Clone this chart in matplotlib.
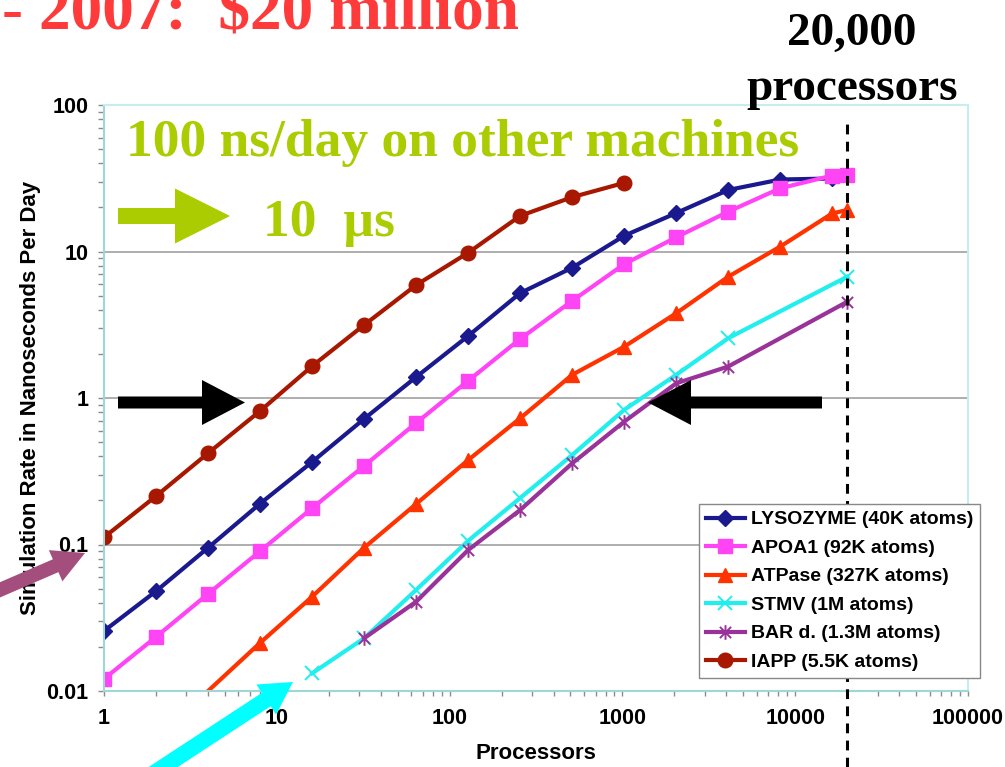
import numpy as np
import matplotlib
matplotlib.use('Agg')
import matplotlib.pyplot as plt
from matplotlib.path import Path
from matplotlib.patches import FancyArrow
from matplotlib.ticker import LogLocator, NullFormatter

# ---------------- data ----------------
procs_lys = [1, 2, 4, 8, 16, 32, 64, 128, 256, 512, 1024, 2048, 4096, 8192, 16384]
rate_lys = [0.0257, 0.048, 0.095, 0.19, 0.366, 0.72, 1.39, 2.65, 5.2, 7.75, 12.8, 18.3, 26.3, 31.0, 31.5]

procs_apoa1 = [1, 2, 4, 8, 16, 32, 64, 128, 256, 512, 1024, 2048, 4096, 8192, 16384, 20000]
rate_apoa1 = [0.0121, 0.0234, 0.046, 0.09, 0.177, 0.344, 0.675, 1.31, 2.53, 4.6, 8.2, 12.5, 18.7, 27.0, 33.0, 33.4]

procs_atpase = [4, 8, 16, 32, 64, 128, 256, 512, 1024, 2048, 4096, 8192, 16384, 20000]
rate_atpase = [0.0100, 0.0213, 0.044, 0.095, 0.189, 0.377, 0.727, 1.44, 2.24, 3.79, 6.73, 10.8, 18.2, 19.2]

procs_stmv = [16, 32, 64, 128, 256, 512, 1024, 2048, 4096, 20000]
rate_stmv = [0.0132, 0.0229, 0.049, 0.106, 0.2076, 0.408, 0.83, 1.44, 2.56, 6.73]

procs_bar = [32, 64, 128, 256, 512, 1024, 2048, 4096, 20000]
rate_bar = [0.0229, 0.0407, 0.0917, 0.172, 0.358, 0.689, 1.26, 1.64, 4.54]

procs_iapp = [1, 2, 4, 8, 16, 32, 64, 128, 256, 512, 1024]
rate_iapp = [0.112, 0.214, 0.42, 0.815, 1.65, 3.15, 5.9, 9.8, 17.5, 23.5, 29.4]

series_labels = ['LYSOZYME (40K atoms)', 'APOA1 (92K atoms)', 'ATPase (327K atoms)',
                 'STMV (1M atoms)', 'BAR d. (1.3M atoms)', 'IAPP (5.5K atoms)']

x_ticks = [1, 10, 100, 1000, 10000, 100000]
x_tick_labels = ['1', '10', '100', '1000', '10000', '100000']
y_ticks = [0.01, 0.1, 1, 10, 100]
y_tick_labels = ['0.01', '0.1', '1', '10', '100']
machine_procs = 20000

# ---------------- style ----------------
SANS = 'Liberation Sans'
SERIF = 'Liberation Serif'
plt.rcParams['font.family'] = [SANS, 'DejaVu Sans']

W, H = 1005, 767
fig = plt.figure(figsize=(W / 100, H / 100), dpi=100)
fig.patch.set_facecolor('white')

ax = fig.add_axes([104 / W, 76 / H, 864 / W, 586 / H])
ax.set_xscale('log')
ax.set_yscale('log')
ax.set_xlim(1, 100000)
ax.set_ylim(0.01, 100)

asterisk = Path([(-1, -1), (1, 1), (-1, 1), (1, -1), (0, -1.3), (0, 1.3)],
                [Path.MOVETO, Path.LINETO, Path.MOVETO, Path.LINETO, Path.MOVETO, Path.LINETO])

lw = 3.0
styles = [
    dict(color='#1a1a8e', marker='D', ms=8.5, mec='#1a1a8e'),
    dict(color='#ff44f6', marker='s', ms=10, mec='#ff44f6'),
    dict(color='#ff3300', marker='^', ms=10.5, mec='#ff3300'),
    dict(color='#22eeee', marker='x', ms=9.5, mew=1.4),
    dict(color='#993399', marker=asterisk, ms=10.5, mew=1.4),
    dict(color='#a81800', marker='o', ms=10.5, mec='#a81800'),
]
data = [(procs_lys, rate_lys), (procs_apoa1, rate_apoa1), (procs_atpase, rate_atpase),
        (procs_stmv, rate_stmv), (procs_bar, rate_bar), (procs_iapp, rate_iapp)]

handles = []
for (xs, ys), st, lab in zip(data, styles, series_labels):
    extra = {}
    if xs is procs_atpase:
        extra['markevery'] = list(range(1, len(xs)))
    h, = ax.plot(xs, ys, lw=lw, label=lab, solid_joinstyle='round', **st, **extra)
    handles.append(h)

# axes appearance
for s in ['top', 'right']:
    ax.spines[s].set_color('#c6eeee')
    ax.spines[s].set_linewidth(1.5)
for s in ['left', 'bottom']:
    ax.spines[s].set_color('#9fd6d8')
    ax.spines[s].set_linewidth(1.5)

ax.yaxis.grid(True, which='major', color='#a8a8a8', lw=1.3)
ax.xaxis.grid(False)
ax.set_axisbelow(True)

ax.set_xticks(x_ticks, x_tick_labels)
ax.set_yticks(y_ticks, y_tick_labels)
ax.xaxis.set_minor_locator(LogLocator(base=10, subs=np.arange(2, 10), numticks=20))
ax.yaxis.set_minor_locator(LogLocator(base=10, subs=np.arange(2, 10), numticks=20))
ax.xaxis.set_minor_formatter(NullFormatter())
ax.yaxis.set_minor_formatter(NullFormatter())
ax.tick_params(which='both', direction='out', color='#8c8c8c', width=1)
ax.tick_params(axis='x', which='both', length=3.5, pad=9)
ax.tick_params(axis='y', which='both', length=4, pad=7)
for t in ax.get_xticklabels() + ax.get_yticklabels():
    t.set_fontsize(15.5)
    t.set_fontweight('bold')

ax.set_xlabel('Processors', fontsize=16, fontweight='bold')
ax.xaxis.set_label_coords(0.5, -0.088)
ax.set_ylabel('Simulation Rate in Nanoseconds Per Day', fontsize=16, fontweight='bold', va='center')
ax.yaxis.set_label_coords((31 - 104) / 864, 0.5)

# dashed marker at 20,000 processors
ax.axvline(machine_procs, ymin=-0.13, ymax=0.978, clip_on=False, color='black',
           lw=2.2, linestyle=(0, (3.2, 2.4)), zorder=5)

leg = ax.legend(handles=handles, loc='upper left', bbox_to_anchor=(699 / W, 1 - 504 / H),
                bbox_transform=fig.transFigure, prop=dict(family=SANS, weight='bold', size=14),
                frameon=True, fancybox=False, framealpha=1, edgecolor='#888888',
                borderpad=0.35, labelspacing=0.56, handlelength=2.0, handletextpad=0.3,
                borderaxespad=0, numpoints=1)
leg.get_frame().set_linewidth(1.0)
leg.set_zorder(10)
leg.legend_handles[2].set_markevery([1])

# ---------------- overlay annotations (pixel space) ----------------
ov = fig.add_axes([0, 0, 1, 1], zorder=20)
ov.set_xlim(0, W)
ov.set_ylim(H, 0)
ov.axis('off')
ov.patch.set_alpha(0)


def arrow(tail, tip, width, head_w, head_l, color):
    dx, dy = tip[0] - tail[0], tip[1] - tail[1]
    ov.add_patch(FancyArrow(tail[0], tail[1], dx, dy, width=width, head_width=head_w,
                            head_length=head_l, length_includes_head=True,
                            color=color, lw=0, clip_on=False))


arrow((118, 216), (230, 216), 16, 55, 55, '#aacc00')
arrow((118, 402.5), (245, 402.5), 12, 45, 43, 'black')
arrow((822, 402.5), (648, 402.5), 12, 45, 43, 'black')
arrow((-5, 592), (85, 553), 14, 34, 32, '#a34e7c')
arrow((151, 775), (293, 682), 16, 36, 32, '#00ffff')

ov.text(2, 28.5, '- 2007:  $20 million', fontsize=45.5, fontweight='bold', family=SERIF,
        color='#ff3a3a', ha='left', va='baseline')
ov.text(852, 45, '20,000', fontsize=34, fontweight='bold', family=SERIF,
        color='black', ha='center', va='baseline')
ov.text(852, 100, 'processors', fontsize=34, fontweight='bold', family=SERIF,
        color='black', ha='center', va='baseline')
ov.text(126, 156, '100 ns/day on other machines', fontsize=38.5, fontweight='bold', family=SERIF,
        color='#aacc00', ha='left', va='baseline')
ov.text(263, 236, '10  µs', fontsize=38.5, fontweight='bold', family=SERIF,
        color='#aacc00', ha='left', va='baseline')

fig.savefig('out.png', dpi=100)
